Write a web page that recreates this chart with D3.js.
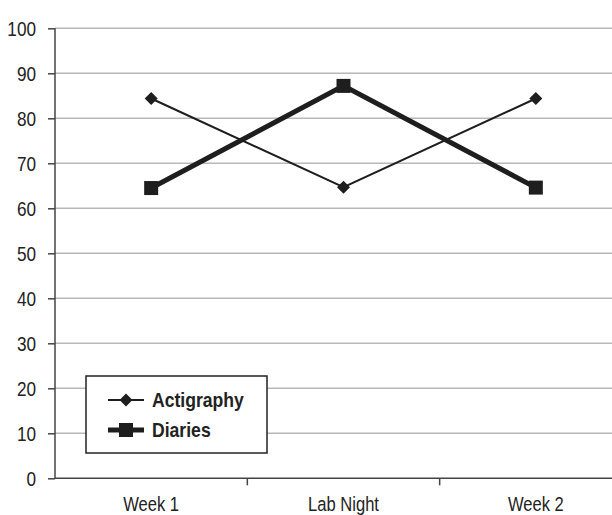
<!DOCTYPE html>
<html>
<head>
<meta charset="utf-8">
<script src="https://cdn.jsdelivr.net/npm/d3@7"></script>
<style>
  body { margin: 0; background: #fff; }
  text { font-family: "Liberation Sans", Arial, sans-serif; fill: #222; }
</style>
</head>
<body>
<svg></svg>
<script>
const categories = ["Week 1", "Lab Night", "Week 2"];
const actigraphy = [84.4, 64.7, 84.4];
const diaries = [64.5, 87.2, 64.6];
const yTicks = [0, 10, 20, 30, 40, 50, 60, 70, 80, 90, 100];
const seriesNames = ["Actigraphy", "Diaries"];

const svg = d3.select("svg").attr("width", 612).attr("height", 515);

const plot = { left: 55, right: 632, top: 28.3, bottom: 478.3 };
// the original type is a bit narrow, so squeeze text horizontally
const squeeze = 0.86;

const x = d3.scaleBand().domain(categories).range([plot.left, plot.right]);
const y = d3.scaleLinear().domain([0, 100]).range([plot.bottom, plot.top]);

// gridlines
svg.append("g").selectAll("line").data(yTicks.filter(d => d > 0)).enter().append("line")
  .attr("x1", plot.left).attr("x2", plot.right)
  .attr("y1", d => y(d)).attr("y2", d => y(d))
  .attr("stroke", "#b8b8b8").attr("stroke-width", 1.5);

// y axis
const yAxis = svg.append("g").attr("transform", `translate(${plot.left},0)`)
  .call(d3.axisLeft(y).tickValues(yTicks).tickSize(7));
yAxis.select(".domain").attr("stroke", "#444").attr("stroke-width", 1.5).attr("d", `M0,${plot.top}V${plot.bottom}`);
yAxis.selectAll(".tick line").attr("stroke", "#444").attr("stroke-width", 1.5);
yAxis.selectAll("text").style("font-size", "20px").attr("fill", "#222")
  .attr("x", -19 / squeeze).attr("dy", "0.36em")
  .attr("transform", `scale(${squeeze},1)`);

// x axis
const xAxis = svg.append("g").attr("transform", `translate(0,${plot.bottom})`)
  .call(d3.axisBottom(x).tickSize(0));
xAxis.select(".domain").attr("stroke", "#444").attr("stroke-width", 1.5).attr("d", `M${plot.left},0H${plot.right}`);
xAxis.selectAll("text").style("font-size", "19.5px").attr("fill", "#222")
  .attr("y", 32.5).attr("dy", 0)
  .attr("transform", "scale(0.85,1)");
xAxis.selectAll(".bound").data(categories.slice(1)).enter().append("line")
  .attr("class", "bound")
  .attr("x1", d => x(d)).attr("x2", d => x(d))
  .attr("y1", 0).attr("y2", 7)
  .attr("stroke", "#444").attr("stroke-width", 1.5);

const line = d3.line().x((d, i) => x(categories[i]) + x.bandwidth() / 2).y(d => y(d));
// square diamond, about 13px across
const diamond = "M0,-6.5L6.5,0L0,6.5L-6.5,0Z";

// actigraphy
svg.append("path").datum(actigraphy).attr("d", line)
  .attr("fill", "none").attr("stroke", "#1e1e1e").attr("stroke-width", 2);
svg.append("g").selectAll("path").data(actigraphy).enter().append("path")
  .attr("d", diamond)
  .attr("transform", (d, i) => `translate(${x(categories[i]) + x.bandwidth() / 2},${y(d)})`)
  .attr("fill", "#1e1e1e");

// diaries
svg.append("path").datum(diaries).attr("d", line)
  .attr("fill", "none").attr("stroke", "#1e1e1e").attr("stroke-width", 5);
svg.append("g").selectAll("rect").data(diaries).enter().append("rect")
  .attr("x", (d, i) => x(categories[i]) + x.bandwidth() / 2 - 7)
  .attr("y", d => y(d) - 7)
  .attr("width", 14).attr("height", 14)
  .attr("fill", "#1e1e1e");

// legend
const legend = svg.append("g").attr("transform", "translate(86,376)");
legend.append("rect").attr("width", 181).attr("height", 77)
  .attr("fill", "#fff").attr("stroke", "#222").attr("stroke-width", 1.5);
const item = legend.selectAll(".item").data(seriesNames).enter().append("g")
  .attr("class", "item")
  .attr("transform", (d, i) => `translate(0,${24 + i * 30})`);
item.append("line").attr("x1", 22).attr("x2", 58).attr("y1", 0).attr("y2", 0)
  .attr("stroke", "#1e1e1e").attr("stroke-width", (d, i) => i === 0 ? 2 : 5);
item.filter((d, i) => i === 0).append("path").attr("d", diamond)
  .attr("transform", "translate(40,0)").attr("fill", "#1e1e1e");
item.filter((d, i) => i === 1).append("rect")
  .attr("x", 33).attr("y", -7).attr("width", 14).attr("height", 14).attr("fill", "#1e1e1e");
item.append("text").text(d => d).attr("x", 66 / 0.88).attr("y", 6.5)
  .attr("transform", "scale(0.88,1)")
  .style("font-size", "20px").style("font-weight", "bold");
</script>
</body>
</html>
